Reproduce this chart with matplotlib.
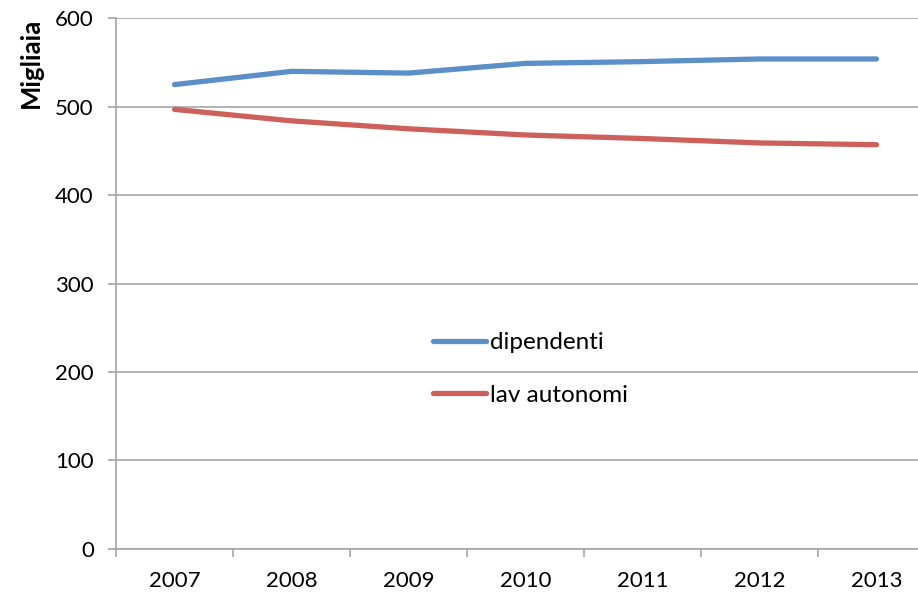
import numpy as np
import matplotlib
matplotlib.use('Agg')
import matplotlib.pyplot as plt
from matplotlib.ticker import FixedLocator

plt.rcParams['font.family'] = ['Lato', 'DejaVu Sans']

# data (migliaia)
anni = ['2007', '2008', '2009', '2010', '2011', '2012', '2013']
dipendenti = [525, 540, 538, 549, 551, 554, 554]
lav_autonomi = [497, 484, 475, 468, 464, 459, 457]

blu = '#5A8FC8'
rosso = '#CD605A'
grigio = '#A6A6A6'
fs = 16

W, H = 918, 596
fig = plt.figure(figsize=(W/100., H/100.), dpi=100)
# axes extends past the right edge of the figure like the reference
ax = fig.add_axes([116./W, 1-548.7/H, (935-116.)/W, (548.7-18.3)/H])

x = np.arange(len(anni))
ax.plot(x, dipendenti, color=blu, lw=3.8, solid_capstyle='round', label='dipendenti')
ax.plot(x, lav_autonomi, color=rosso, lw=3.8, solid_capstyle='round', label='lav autonomi')

ax.set_xlim(-0.5, 6.5)
ax.set_ylim(0, 600)
ax.set_yticks(range(0, 601, 100))
ax.yaxis.grid(True, color=grigio, lw=1.2)
ax.set_axisbelow(True)

ax.set_xticks(x)
ax.set_xticklabels(anni)
ax.xaxis.set_minor_locator(FixedLocator(np.arange(-0.5, 7, 1)))
ax.tick_params(axis='x', which='major', length=0, pad=16, labelsize=fs, colors='black')
ax.tick_params(axis='x', which='minor', length=6, width=1.2, color=grigio, direction='out')
ax.tick_params(axis='y', length=6, width=1.2, color=grigio, direction='out', pad=10, labelsize=fs)

for s in ['top', 'right']:
    ax.spines[s].set_visible(False)
for s in ['left', 'bottom']:
    ax.spines[s].set_color(grigio)
    ax.spines[s].set_linewidth(1.2)

fig.text(31./W, 1-18./H, 'Migliaia', rotation=90, va='top', ha='center',
         fontsize=18.5, fontweight='bold')

ax.legend(loc='upper left', bbox_to_anchor=(433./W, 1-332./H), bbox_transform=fig.transFigure,
          frameon=False, borderpad=0, borderaxespad=0, handlelength=2.2, handletextpad=0.13,
          labelspacing=1.3, fontsize=17.5)

plt.savefig('out.png', dpi=100)
